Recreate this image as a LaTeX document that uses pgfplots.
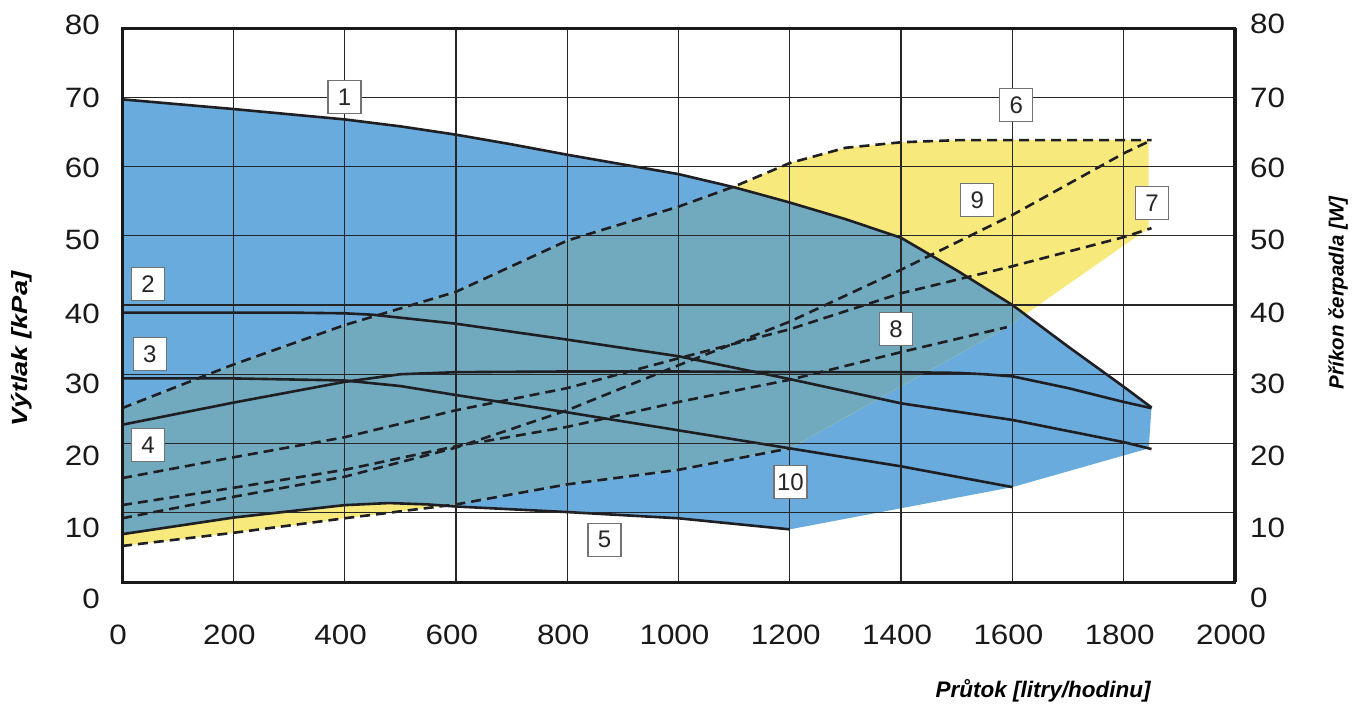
\documentclass[border=0pt]{standalone}
\usepackage{fontspec}
\setmainfont{Liberation Sans}
\newfontfamily\tickfont{Liberation Sans}[FakeStretch=1.12]
\usepackage{pgfplots}
\pgfplotsset{compat=1.18}
\definecolor{cblue}{RGB}{106,171,221}
\definecolor{cyel}{RGB}{247,233,124}
\definecolor{cteal}{RGB}{113,170,191}
\definecolor{ink}{RGB}{30,30,35}
\newcommand{\tf}{\tickfont\fontsize{28}{28}\selectfont}
\newcommand{\rb}[2]{\raisebox{-#1pt}[0pt][0pt]{#2}}
\pgfplotsset{ylabs/.style={yticklabels={\rb{26}{0},\rb{25}{10},\rb{22}{20},\rb{19}{30},\rb{18}{40},\rb{14}{50},\rb{11}{60},\rb{10}{70},\rb{6}{80}}}}
\begin{document}
\begin{tikzpicture}
\useasboundingbox (-122pt,-124pt) rectangle (1237pt,582pt);
\begin{axis}[
  at={(0pt,0pt)}, anchor=south west,
  scale only axis, width=1113pt, height=554pt,
  xmin=0, xmax=2000, ymin=0, ymax=80,
  xtick={0,200,...,2000}, ytick={0,10,...,80},
  grid=major, major grid style={line width=1.3pt, color=black!85},
  axis line style={line width=3pt, color=black!90},
  major tick length=0pt,
  axis on top,
  /pgf/number format/assume math mode=true,
  /pgf/number format/1000 sep={},
  xticklabel style={font=\tf, text=black!90, anchor=north, inner sep=0pt, yshift=-43pt, xshift=-4pt},
  ylabs,
  yticklabel style={font=\tf, text=black!90, anchor=east, inner sep=0pt, xshift=-22pt},
]
% blue region
\addplot[fill=cblue, draw=none] coordinates {
 (0,69.7)(200,68.3)(400,66.8)(500,65.8)(600,64.6)(700,63.2)(800,61.7)(900,60.3)(1000,58.9)(1100,57.0)(1200,54.8)(1300,52.4)(1400,49.7)(1500,45.0)(1600,40.0)(1700,34.0)(1800,28.2)(1850,25.2)
 (1845,19.3)(1600,13.7)(1200,7.6)
 (1000,9.2)(800,10.1)(600,10.9)(550,11.2)(480,11.4)(400,11.1)(200,9.3)(0,6.9)} -- cycle;
% yellow region
\addplot[fill=cyel, draw=none] coordinates {
 (0,25.1)(200,31.4)(400,37.1)(600,41.9)(800,49.3)(1000,54.2)(1100,57.1)(1200,60.5)(1300,62.7)(1400,63.5)(1500,63.8)(1845,63.8)
 (1845,51.1)(1590,36.8)(1200,19.3)
 (1000,16.2)(800,14.1)(600,11.2)(400,9.2)(200,7.1)(0,5.2)} -- cycle;
% overlap region
\addplot[fill=cteal, draw=none] coordinates {
 (0,25.1)(200,31.4)(400,37.1)(600,41.9)(800,49.3)(1000,54.2)(1096,57.0)
 (1200,54.8)(1300,52.4)(1400,49.7)(1500,45.0)(1600,40.0)(1623,38.64)
 (1590,36.8)(1200,19.3)(1000,16.2)(800,14.1)(600,11.2)(581,11.01)
 (550,11.2)(480,11.4)(400,11.1)(200,9.3)(0,6.9)} -- cycle;
% solid curves
\addplot[ink, line width=2.6pt] coordinates {
 (0,69.7)(200,68.3)(400,66.8)(500,65.8)(600,64.6)(700,63.2)(800,61.7)(900,60.3)(1000,58.9)(1100,57.0)(1200,54.8)(1300,52.4)(1400,49.7)(1500,45.0)(1600,40.0)(1700,34.0)(1800,28.2)(1850,25.2)};
\addplot[ink, line width=2.6pt] coordinates {
 (0,38.9)(300,38.9)(400,38.8)(450,38.6)(600,37.3)(800,35.0)(1000,32.6)(1200,29.3)(1400,25.8)(1600,23.4)(1800,20.2)(1850,19.2)};
\addplot[ink, line width=2.6pt] coordinates {
 (0,29.4)(200,29.4)(400,29.1)(500,28.3)(600,27.0)(800,24.5)(1000,21.9)(1200,19.3)(1400,16.7)(1600,13.7)};
\addplot[ink, line width=2.6pt] coordinates {
 (0,22.7)(200,25.9)(400,28.9)(500,30.0)(600,30.3)(800,30.4)(1000,30.4)(1200,30.3)(1400,30.3)(1500,30.2)(1550,30.0)(1600,29.7)(1700,28.0)(1800,26.0)(1850,25.1)};
\addplot[ink, line width=2.6pt] coordinates {
 (0,6.9)(200,9.3)(400,11.1)(480,11.4)(550,11.2)(600,10.9)(800,10.1)(1000,9.2)(1200,7.6)};
% dashed curves
\addplot[ink, line width=2.6pt, dash pattern=on 10pt off 6pt] coordinates {
 (0,25.1)(200,31.4)(400,37.1)(600,41.9)(800,49.3)(1000,54.2)(1100,57.1)(1200,60.5)(1300,62.7)(1400,63.5)(1500,63.8)(1850,63.8)};
\addplot[ink, line width=2.6pt, dash pattern=on 10pt off 6pt] coordinates {
 (0,15.0)(200,18.0)(400,20.9)(600,24.8)(800,28.0)(1000,32.3)(1200,36.5)(1400,41.7)(1600,45.6)(1800,49.8)(1850,51.1)};
\addplot[ink, line width=2.6pt, dash pattern=on 10pt off 6pt] coordinates {
 (0,11.1)(200,13.6)(400,16.2)(600,19.6)(800,22.4)(1000,26.0)(1200,29.2)(1400,33.2)(1590,36.8)};
\addplot[ink, line width=2.6pt, dash pattern=on 10pt off 6pt] coordinates {
 (0,9.2)(200,12.3)(400,15.2)(600,19.4)(800,24.8)(1000,31.3)(1200,37.6)(1400,45.1)(1600,53.0)(1800,61.9)(1850,63.8)};
\addplot[ink, line width=2.6pt, dash pattern=on 10pt off 6pt] coordinates {
 (0,5.2)(200,7.1)(400,9.2)(600,11.2)(800,14.1)(1000,16.2)(1200,19.3)};
% label anchors
\coordinate (b1) at (axis cs:400,70.0);
\coordinate (b2) at (axis cs:47,43.0);
\coordinate (b3) at (axis cs:50,32.9);
\coordinate (b4) at (axis cs:47,19.8);
\coordinate (b5) at (axis cs:867,6.1);
\coordinate (b6) at (axis cs:1607,68.9);
\coordinate (b7) at (axis cs:1851,54.7);
\coordinate (b8) at (axis cs:1391,36.5);
\coordinate (b9) at (axis cs:1537,55.2);
\coordinate (b10) at (axis cs:1201,14.4);
\end{axis}
\begin{axis}[
  at={(0pt,0pt)}, anchor=south west,
  scale only axis, width=1113pt, height=554pt,
  xmin=0, xmax=2000, ymin=0, ymax=80,
  axis x line=none, axis y line*=right,
  ytick={0,10,...,80},
  ylabs,
  major tick length=0pt,
  axis line style={line width=3pt, color=black!90},
  yticklabel style={font=\tf, text=black!90, anchor=west, inner sep=0pt, xshift=15pt},
]
\end{axis}
\tikzset{lbl/.style={draw=black!55, line width=1.3pt, fill=white, minimum width=33pt, minimum height=33pt, inner sep=1pt, text=black!85, font=\fontsize{24}{24}\selectfont}}
\foreach \i in {1,...,10} {\node[lbl] at (b\i) {\i};}
\node[rotate=90, font=\fontsize{22}{22}\selectfont\bfseries\itshape] at (-100pt,233pt) {\scalebox{1.24}[1]{Výtlak [kPa]}};
\node[rotate=90, font=\fontsize{20.5}{20.5}\selectfont\bfseries\itshape] at (1216pt,289pt) {Příkon čerpadla [W]};
\node[font=\fontsize{22.5}{22.5}\selectfont\bfseries\itshape] at (921pt,-109pt) {Průtok [litry/hodinu]};
\end{tikzpicture}
\end{document}
